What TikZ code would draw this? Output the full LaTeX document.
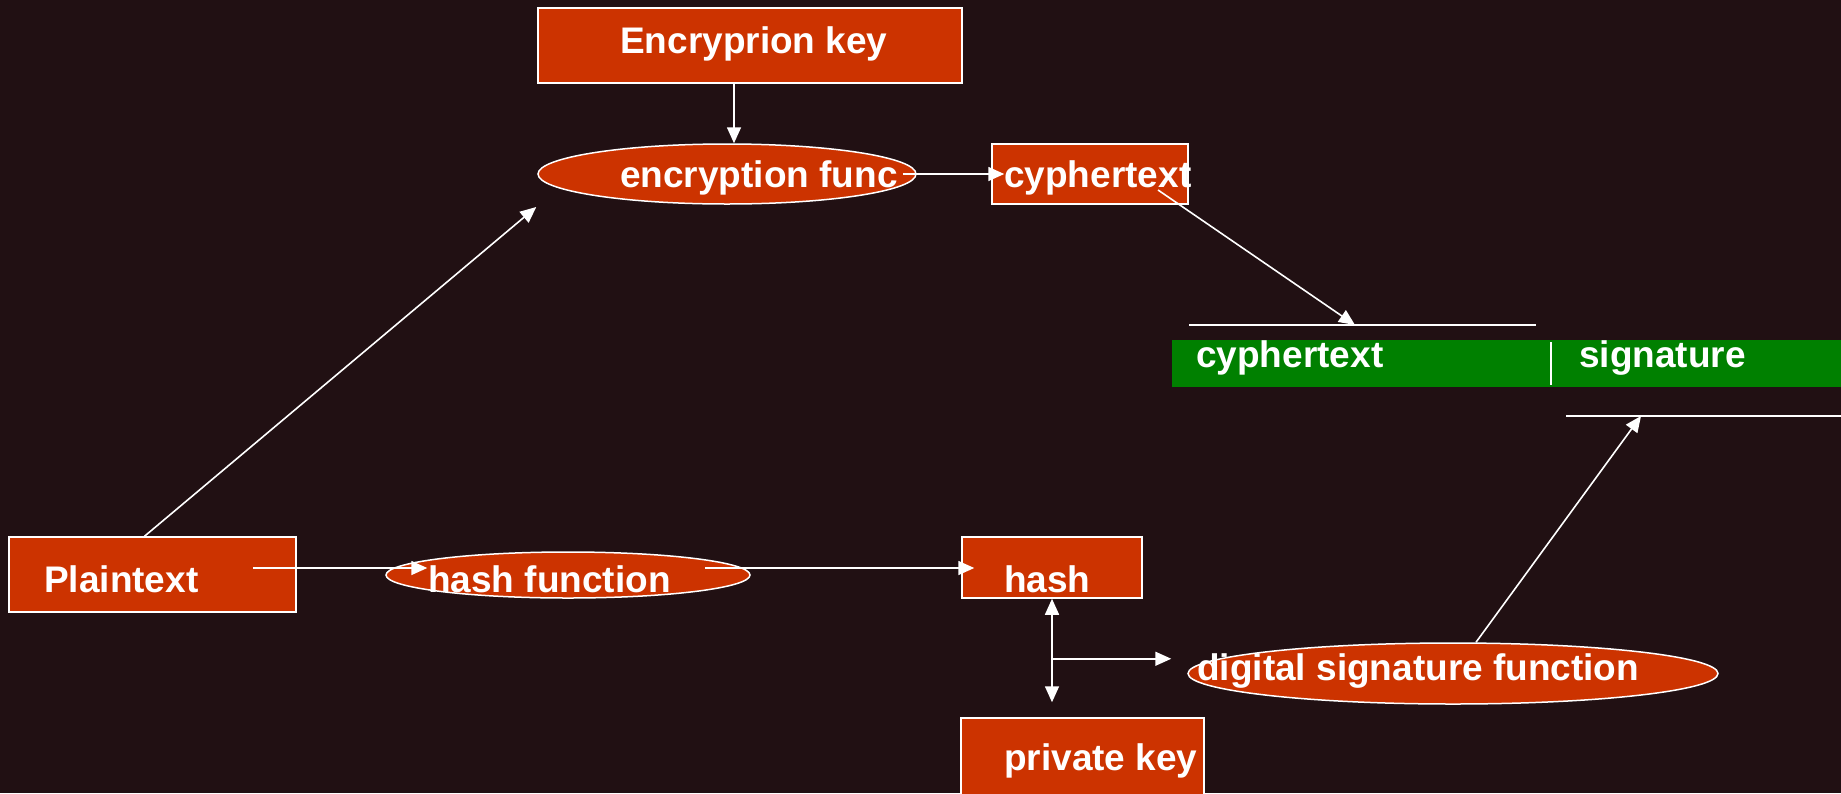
\documentclass[tikz,border=0pt]{standalone}
\usepackage{fontspec}
\setmainfont{Liberation Sans}
\usetikzlibrary{shapes.geometric,arrows.meta}
\definecolor{bgdark}{HTML}{211013}
\definecolor{boxred}{HTML}{CC3300}
\definecolor{bargreen}{HTML}{008000}
\tikzset{
  box/.style={draw=white, line width=1.5pt, fill=boxred, rectangle, inner sep=0pt},
  oval/.style={draw=white, line width=1.5pt, fill=boxred, ellipse, inner sep=0pt},
  lbl/.style={text=white, font=\bfseries\fontsize{37}{40}\selectfont, anchor=base west, inner sep=0pt},
  wire/.style={draw=white, line width=1.6pt},
  tip/.style={-{Triangle[length=16pt,width=14pt]}},
  tips/.style={{Triangle[length=16pt,width=14pt]}-{Triangle[length=16pt,width=14pt]}}
}
\begin{document}
\begin{tikzpicture}[x=1pt,y=-1pt]
  \useasboundingbox (0,0) rectangle (1841,793);
  \fill[bgdark] (0,0) rectangle (1841,793);
  \clip (0,0) rectangle (1841,793);

  % message bar: cyphertext | signature
  \node[fill=bargreen, inner sep=0pt, minimum width=673pt, minimum height=47pt] (bar) at (1508.5,363.5) {};
  \draw[wire] (1551,342) -- (1551,385);
  \coordinate (ctL) at (1189,325);
  \coordinate (ctR) at (1536,325);
  \coordinate (ctIn) at (1355,325);
  \draw[wire] (ctL) -- (ctR);
  \coordinate (sgL) at (1566,416);
  \coordinate (sgR) at (1845,416);
  \coordinate (sgIn) at (1641,416);
  \draw[wire] (sgL) -- (sgR);

  % boxes and function ovals
  \node[box, minimum width=424pt, minimum height=75pt] (enckey) at (750,45.5) {};
  \node[oval, minimum width=378pt, minimum height=60pt] (encfn) at (727,174) {};
  \node[box, minimum width=196pt, minimum height=60pt] (cyph) at (1090,174) {};
  \node[box, minimum width=287pt, minimum height=75pt] (plain) at (152.5,574.5) {};
  \node[oval, minimum width=364pt, minimum height=46pt] (hashfn) at (568,575) {};
  \node[box, minimum width=180pt, minimum height=61pt] (hash) at (1052,567.5) {};
  \node[oval, minimum width=530pt, minimum height=61pt] (dsf) at (1453,673.5) {};
  \node[box, minimum width=243pt, minimum height=92pt] (privkey) at (1082.5,764) {};

  % connectors
  \draw[wire,tip] ([xshift=-16pt]enckey.south) -- ([xshift=-16pt]enckey.south |- encfn.north);
  \draw[wire,tip] ([xshift=-14pt]encfn.east) -- ([xshift=13pt]cyph.west);
  \draw[wire,tip] ([shift={(68,16)}]cyph.center) -- (ctIn);
  \draw[wire,tip] ([xshift=-8pt]plain.north) -- ([shift={(-1,33)}]encfn.west);
  \draw[wire,tip] ([shift={(-44,-6.5)}]plain.east) -- ([shift={(42,-7)}]hashfn.west);
  \draw[wire,tip] ([shift={(-46,-7)}]hashfn.east) -- ([shift={(13,0.5)}]hash.west);
  \draw[wire,tips] (hash.south) -- ([yshift=15pt]hash.south |- privkey.north);
  \coordinate (fork) at ([yshift=-60pt]hash.south);
  \coordinate (forkend) at ([xshift=-16pt]dsf.west);
  \draw[wire,tip] (fork) -- (fork -| forkend);
  \draw[wire,tip] ([xshift=23pt]dsf.north) -- (sgIn);

  % labels
  \node[lbl] (tEnckey) at (620,53) {Encryprion key};
  \node[lbl] (tEncfn) at (620,187) {encryption func};
  \node[lbl] (tCyph) at (1004,187) {cyphertext};
  \node[lbl] (tPlain) at (44,592) {Plaintext};
  \node[lbl] (tHashfn) at (428,592) {hash function};
  \node[lbl] (tHash) at (1004,592) {hash};
  \node[lbl] (tDsf) at (1197,680) {digital signature function};
  \node[lbl] (tPriv) at (1004,770) {private key};
  \node[lbl] (tBarC) at (1196,367) {cyphertext};
  \node[lbl] (tBarS) at (1579,367) {signature};
\end{tikzpicture}
\end{document}
